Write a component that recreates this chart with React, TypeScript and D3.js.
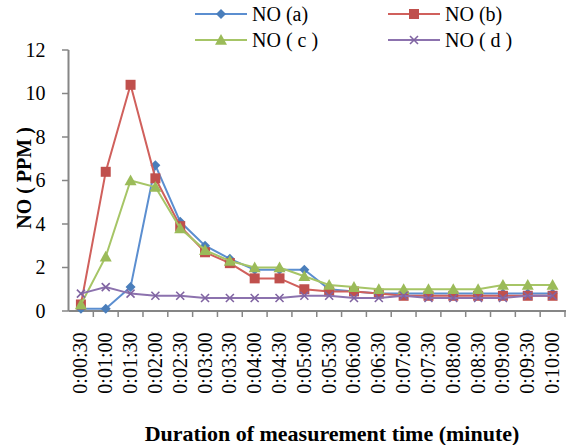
import React from "react";
import * as d3 from "d3";

const categories = [
  "0:00:30", "0:01:00", "0:01:30", "0:02:00", "0:02:30", "0:03:00", "0:03:30",
  "0:04:00", "0:04:30", "0:05:00", "0:05:30", "0:06:00", "0:06:30", "0:07:00",
  "0:07:30", "0:08:00", "0:08:30", "0:09:00", "0:09:30", "0:10:00",
];
const seriesA = [0.1, 0.1, 1.1, 6.7, 4.1, 3.0, 2.4, 1.9, 1.9, 1.9, 1.0, 0.9, 0.8, 0.8, 0.8, 0.8, 0.8, 0.8, 0.8, 0.8];
const seriesB = [0.3, 6.4, 10.4, 6.1, 3.9, 2.7, 2.2, 1.5, 1.5, 1.0, 0.9, 0.9, 0.8, 0.7, 0.7, 0.7, 0.7, 0.7, 0.7, 0.7];
const seriesC = [0.3, 2.5, 6.0, 5.7, 3.8, 2.8, 2.3, 2.0, 2.0, 1.6, 1.2, 1.1, 1.0, 1.0, 1.0, 1.0, 1.0, 1.2, 1.2, 1.2];
const seriesD = [0.8, 1.1, 0.8, 0.7, 0.7, 0.6, 0.6, 0.6, 0.6, 0.7, 0.7, 0.6, 0.6, 0.7, 0.6, 0.6, 0.6, 0.6, 0.7, 0.7];
const yTicks = [0, 2, 4, 6, 8, 10, 12];
const seriesNames = ["NO (a)", "NO (b)", "NO ( c )", "NO ( d )"];

const colors = ["#4A7EBB", "#C0504D", "#9BBB59", "#8064A2"];
const lineColors = ["#5B8ED0", "#D0605C", "#A6C566", "#8C72AE"];
const markers = ["diamond", "square", "triangle", "x"];
const FONT = "Liberation Serif";

function Marker({ type, x, y, color }: { type: string; x: number; y: number; color: string }) {
  if (type === "diamond") {
    const s = 5;
    return <path d={`M${x},${y - s}L${x + s},${y}L${x},${y + s}L${x - s},${y}Z`} fill={color} />;
  }
  if (type === "square") {
    const s = 5;
    return <rect x={x - s} y={y - s} width={2 * s} height={2 * s} fill={color} />;
  }
  if (type === "triangle") {
    const s = 6;
    return <path d={`M${x},${y - s}L${x + s},${y + s * 0.8}L${x - s},${y + s * 0.8}Z`} fill={color} />;
  }
  const s = 4;
  return (
    <path
      d={`M${x - s},${y - s}L${x + s},${y + s}M${x - s},${y + s}L${x + s},${y - s}`}
      stroke={color}
      strokeWidth={1.6}
      fill="none"
    />
  );
}

export default function App() {
  const data = [seriesA, seriesB, seriesC, seriesD];
  const x = d3.scaleBand<string>().domain(categories).range([68.5, 565]).padding(0);
  const y = d3.scaleLinear().domain([0, 12]).range([311, 50]);
  const bw = x.bandwidth();
  const cx = (c: string) => (x(c) as number) + bw / 2;
  const line = d3
    .line<number>()
    .x((_, i) => cx(categories[i]))
    .y((d) => y(d));
  const axisColor = "#868686";
  const ts = { fontFamily: FONT };

  const legendPos = [
    { x: 195, y: 14 },
    { x: 388, y: 14 },
    { x: 195, y: 40 },
    { x: 388, y: 40 },
  ];

  return (
    <svg
      width={570}
      height={445}
      style={{ position: "absolute", left: 0, top: 0, background: "#fff", fontFamily: FONT }}
    >
      {/* axes */}
      <line x1={68.5} x2={68.5} y1={50} y2={311} stroke={axisColor} strokeWidth={2} />
      <line x1={68.5} x2={566} y1={311} y2={311} stroke={axisColor} strokeWidth={2} />
      {yTicks.map((t) => (
        <g key={t}>
          <line x1={62} x2={68.5} y1={y(t)} y2={y(t)} stroke={axisColor} strokeWidth={1.5} />
          <text x={45.5} y={y(t)} dy="0.33em" textAnchor="end" fontSize={20} fill="#000" style={ts}>
            {t}
          </text>
        </g>
      ))}
      {categories.map((c) => (
        <line
          key={"t" + c}
          x1={(x(c) as number) + bw}
          x2={(x(c) as number) + bw}
          y1={311}
          y2={317}
          stroke={axisColor}
          strokeWidth={1.5}
        />
      ))}
      {categories.map((c) => (
        <text
          key={"l" + c}
          transform={`translate(${cx(c) + 6.5},${332.5}) rotate(-90)`}
          textAnchor="end"
          fontSize={20}
          fill="#000"
          style={ts}
        >
          {c}
        </text>
      ))}
      <text
        transform={`translate(31,178) rotate(-90)`}
        textAnchor="middle"
        fontSize={20}
        fontWeight="bold"
        fill="#000"
        style={ts}
      >
        NO ( PPM )
      </text>
      <text x={332} y={441} textAnchor="middle" fontSize={22} fontWeight="bold" fill="#000" style={ts}>
        Duration of measurement time (minute)
      </text>

      {/* series */}
      {data.map((s, k) => (
        <g key={"s" + k}>
          <path d={line(s) as string} fill="none" stroke={lineColors[k]} strokeWidth={2} />
          {s.map((v, i) => (
            <Marker key={i} type={markers[k]} x={cx(categories[i])} y={y(v)} color={colors[k]} />
          ))}
        </g>
      ))}

      {/* legend */}
      {seriesNames.map((n, k) => (
        <g key={"lg" + k}>
          <line
            x1={legendPos[k].x}
            x2={legendPos[k].x + 52}
            y1={legendPos[k].y}
            y2={legendPos[k].y}
            stroke={lineColors[k]}
            strokeWidth={2}
          />
          <Marker type={markers[k]} x={legendPos[k].x + 26} y={legendPos[k].y} color={colors[k]} />
          <text x={legendPos[k].x + 57} y={legendPos[k].y} dy="0.33em" fontSize={20} fill="#000" style={ts}>
            {n}
          </text>
        </g>
      ))}
    </svg>
  );
}
